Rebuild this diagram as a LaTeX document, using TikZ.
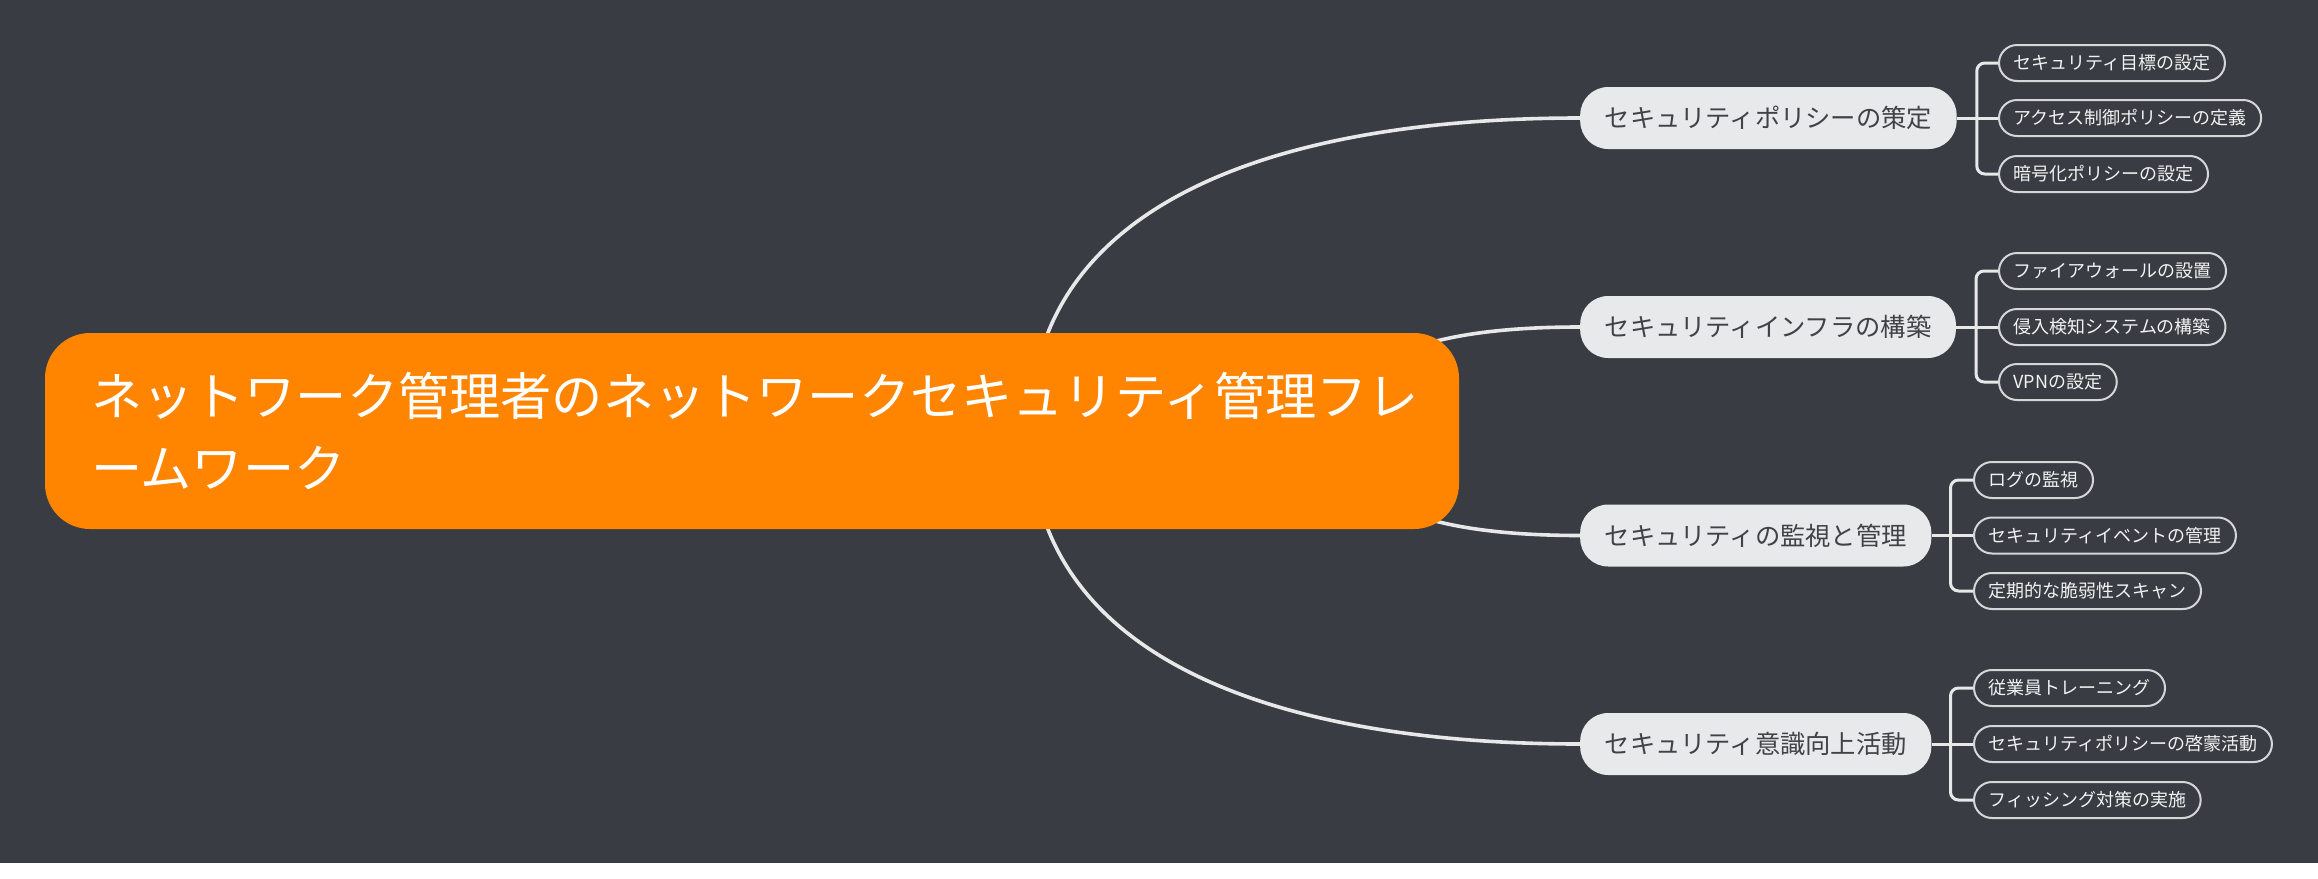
\documentclass[tikz,border=0pt]{standalone}
\usepackage{fontspec}
\setmainfont{Noto Sans CJK JP}
\usetikzlibrary{calc}
\pgfdeclarelayer{background}
\pgfsetlayers{background,main}
\definecolor{bgdark}{HTML}{393C42}
\definecolor{rootorange}{HTML}{FF8400}
\definecolor{mainfill}{HTML}{E8E9EB}
\definecolor{maintext}{HTML}{3F4247}
\definecolor{leafborder}{HTML}{D5D6D8}
\definecolor{leaftext}{HTML}{F2F2F2}
\definecolor{linecol}{HTML}{E8E8E8}
\begin{document}
\begin{tikzpicture}[x=1pt,y=-1pt,
  rootbox/.style={fill=rootorange, text=white, rounded corners=45pt,
    minimum height=196pt, text width=1334pt, inner xsep=40pt, inner ysep=0pt,
    align=left, font=\fontsize{51.2}{72}\selectfont},
  mainbox/.style={fill=mainfill, text=maintext, rounded corners=28pt,
    minimum height=62pt, inner xsep=24.5pt, inner ysep=0pt, anchor=west,
    font=\fontsize{25.3}{30}\selectfont},
  leafbox/.style={draw=leafborder, line width=2pt, fill=bgdark, text=leaftext,
    rounded corners=18pt, minimum height=36pt, inner xsep=14.5pt, inner ysep=0pt,
    anchor=west, font=\fontsize{18}{22}\selectfont},
  conn/.style={draw=linecol, line width=3.6pt},
  bracket/.style={draw=linecol, line width=3pt, rounded corners=8pt}
]
\begin{pgfonlayer}{background}
\fill[white] (0,0) rectangle (2318,878);
\fill[bgdark] (0,0) rectangle (2318,863);
\end{pgfonlayer}
\useasboundingbox (0,0) rectangle (2318,878);

% root
\node[rootbox] (root) at (752,431) {\hspace*{6pt}ネットワーク管理者のネットワークセキュリティ管理フレ\\\hspace*{6pt}ームワーク};

% main branches
\node[mainbox] (m1) at (1580,118) {セキュリティポリシーの策定};
\node[mainbox] (m2) at (1580,327) {セキュリティインフラの構築};
\node[mainbox] (m3) at (1580,535.5) {セキュリティの監視と管理};
\node[mainbox] (m4) at (1580,744) {セキュリティ意識向上活動};

% leaves
\node[leafbox] (l11) at (1998,63) {セキュリティ目標の設定};
\node[leafbox] (l12) at (1998,118) {アクセス制御ポリシーの定義};
\node[leafbox] (l13) at (1998,174) {暗号化ポリシーの設定};

\node[leafbox] (l21) at (1998,271) {ファイアウォールの設置};
\node[leafbox] (l22) at (1998,327) {侵入検知システムの構築};
\node[leafbox] (l23) at (1998,382) {VPNの設定};

\node[leafbox] (l31) at (1973,480) {ログの監視};
\node[leafbox] (l32) at (1973,535.5) {セキュリティイベントの管理};
\node[leafbox] (l33) at (1973,591) {定期的な脆弱性スキャン};

\node[leafbox] (l41) at (1973,688) {従業員トレーニング};
\node[leafbox] (l42) at (1973,744) {セキュリティポリシーの啓蒙活動};
\node[leafbox] (l43) at (1973,800) {フィッシング対策の実施};

\begin{pgfonlayer}{background}
% root to main curves
\draw[conn] (root.center) -- ($(root.center)+(278,0)$)
  .. controls ($(root.center)+(278,-230)$) and ($(m1.west)+(-300,0)$) .. (m1.west);
\draw[conn] (root.center) -- ($(root.center)+(588,0)$)
  .. controls ($(root.center)+(588,-69)$) and ($(m2.west)+(-160,0)$) .. (m2.west);
\draw[conn] (root.center) -- ($(root.center)+(588,0)$)
  .. controls ($(root.center)+(588,69)$) and ($(m3.west)+(-160,0)$) .. (m3.west);
\draw[conn] (root.center) -- ($(root.center)+(278,0)$)
  .. controls ($(root.center)+(278,230)$) and ($(m4.west)+(-300,0)$) .. (m4.west);

% brackets
\draw[bracket] (m1.east) -- (l12.west);
\draw[bracket] (l11.west) -| ($(m1.east)+(20,0)$) |- (l13.west);
\draw[bracket] (m2.east) -- (l22.west);
\draw[bracket] (l21.west) -| ($(m2.east)+(20,0)$) |- (l23.west);
\draw[bracket] (m3.east) -- (l32.west);
\draw[bracket] (l31.west) -| ($(m3.east)+(19,0)$) |- (l33.west);
\draw[bracket] (m4.east) -- (l42.west);
\draw[bracket] (l41.west) -| ($(m4.east)+(19,0)$) |- (l43.west);
\end{pgfonlayer}
\end{tikzpicture}
\end{document}
